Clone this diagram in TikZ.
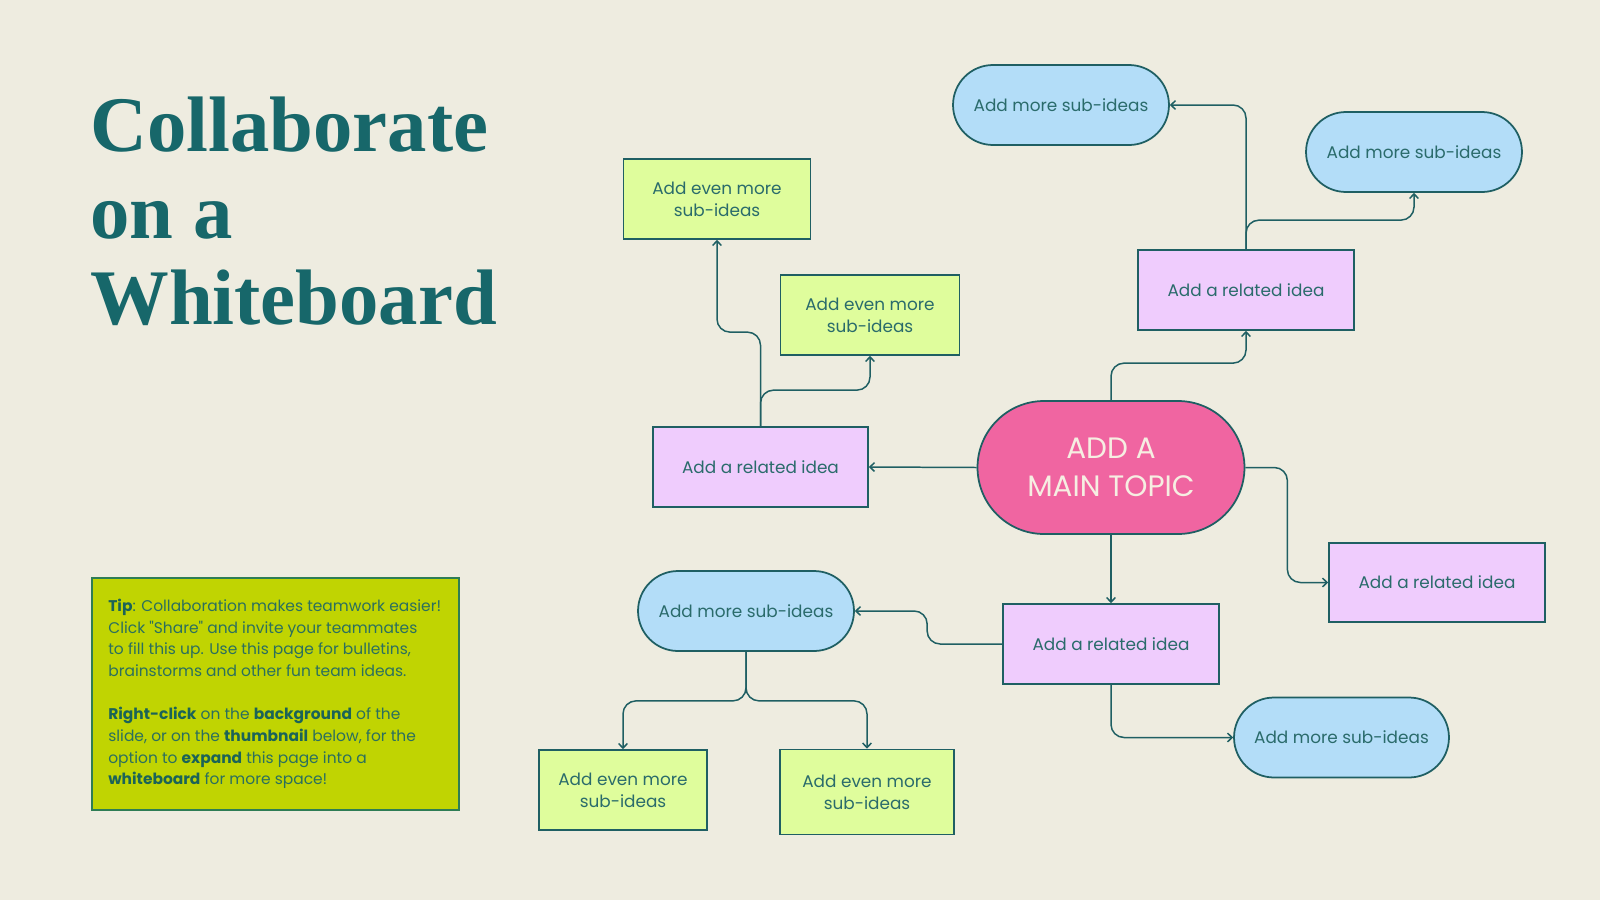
\documentclass[tikz,border=0pt]{standalone}
\usepackage{fontspec}
\setmainfont{Poppins}
\newfontfamily\titlefont{Liberation Serif}
\usetikzlibrary{shapes.misc,arrows.meta}
\definecolor{bgcol}{HTML}{EEECE0}
\definecolor{teal}{HTML}{17676A}
\definecolor{linecol}{HTML}{1F5F63}
\definecolor{txtcol}{HTML}{2A6B6B}
\definecolor{lav}{HTML}{EFCCFD}
\definecolor{sky}{HTML}{B3DDF8}
\definecolor{lime}{HTML}{DFFD9C}
\definecolor{pinkc}{HTML}{F065A1}
\definecolor{cream}{HTML}{F6EEE2}
\definecolor{tipfill}{HTML}{C0D402}
\definecolor{tipline}{HTML}{2E7D55}
\definecolor{tiptxt}{HTML}{2B6F5E}
\definecolor{tipbold}{HTML}{1B6358}
\tikzset{
  base/.style={draw=linecol, line width=1pt, text=txtcol, inner sep=0pt, align=center,
    font=\fontsize{9.6}{12.7}\selectfont},
  related/.style={base, rectangle, fill=lav, minimum height=1.6cm},
  subidea/.style={base, rounded rectangle, fill=sky, minimum height=1.6cm},
  evenmore/.style={base, rectangle, fill=lime, minimum height=1.6cm},
  conn/.style={draw=linecol, line width=0.85pt, rounded corners=0.26cm,
    -{Straight Barb[length=2.6pt,width=5pt]}},
}
\newcommand\tb[1]{{\bfseries\color{tipbold}#1}}
\begin{document}
\begin{tikzpicture}[x=0.02cm,y=-0.02cm]
\fill[bgcol] (0,0) rectangle (1600,900);
\useasboundingbox (0,0) rectangle (1600,900);

% title
\node[anchor=base west, inner sep=0pt, text=teal,
  font=\titlefont\bfseries\fontsize{44.8}{49}\selectfont] (title) at (90,151) {Collaborate};
\node[anchor=base west, inner sep=0pt, text=teal,
  font=\titlefont\bfseries\fontsize{44.8}{49}\selectfont] (title2) at (90,238) {on a};
\node[anchor=base west, inner sep=0pt, text=teal,
  font=\titlefont\bfseries\fontsize{44.8}{49}\selectfont] (title3) at (90,324) {Whiteboard};

% tip box
\node[draw=tipline, line width=1.1pt, fill=tipfill, minimum width=7.34cm,
  minimum height=4.64cm, anchor=north west] (tip) at (91,577) {};
\node[anchor=north west, inner sep=0pt, align=left, text=tiptxt,
  font=\fontsize{8.8}{12.3}\selectfont] (tiptext) at (108,599)
  {\tb{Tip}: Collaboration makes teamwork easier!\\
   Click \textquotedbl Share\textquotedbl{} and invite your teammates\\
   to fill this up. Use this page for bulletins,\\
   brainstorms and other fun team ideas.\\[12.3pt]
   \tb{Right-click} on the \tb{background} of the\\
   slide, or on the \tb{thumbnail} below, for the\\
   option to \tb{expand} this page into a\\
   \tb{whiteboard} for more space!};

% main topic
\node[base, rounded rectangle, fill=pinkc, text=cream, minimum width=5.34cm,
  minimum height=2.66cm, font=\fontsize{16.8}{21.6}\selectfont] (main) at (1111,467.5)
  {ADD A\\MAIN TOPIC};

% related ideas
\node[related, minimum width=4.3cm] (R1) at (760.5,467) {Add a related idea};
\node[related, minimum width=4.32cm] (R2) at (1246,290) {Add a related idea};
\node[related, minimum width=4.32cm, minimum height=1.58cm] (R3) at (1437,582.5) {Add a related idea};
\node[related, minimum width=4.32cm] (R4) at (1111,644) {Add a related idea};

% sub ideas
\node[subidea, minimum width=4.32cm] (B1) at (1061,105) {Add more sub-ideas};
\node[subidea, minimum width=4.32cm] (B2) at (1414,152) {Add more sub-ideas};
\node[subidea, minimum width=4.32cm] (B3) at (746,611) {Add more sub-ideas};
\node[subidea, minimum width=4.3cm] (B4) at (1341.5,737.5) {Add more sub-ideas};

% even more
\node[evenmore, minimum width=3.74cm] (G1) at (717,199) {Add even more\\sub-ideas};
\node[evenmore, minimum width=3.58cm] (G2) at (870,315) {Add even more\\sub-ideas};
\node[evenmore, minimum width=3.36cm] (G3) at (623,790) {Add even more\\sub-ideas};
\node[evenmore, minimum width=3.48cm, minimum height=1.7cm] (G4) at (867,792) {Add even more\\sub-ideas};

% connectors
\draw[conn] (main.west) -- (R1.east);
\draw[conn] (main.north) -- ++(0,-37) -| (R2.south);
\draw[conn] (main.east) -- ++(42,0) |- (R3.west);
\draw[conn] (main.south) -- (R4.north);
\draw[conn] (R4.west) -- ++(-75,0) |- (B3.east);
\draw[conn] (R4.south) |- (B4.west);
\draw[conn] (B3.south) -- ++(0,49) -| (G3.north);
\draw[conn] (B3.south) -- ++(0,49) -| (G4.north);
\draw[conn] (R1.north) -- ++(0,-36) -| (G2.south);
\draw[conn] (R1.north) -- ++(0,-94) -| (G1.south);
\draw[conn] (R2.north) |- (B1.east);
\draw[conn] (R2.north) -- ++(0,-29) -| (B2.south);
\end{tikzpicture}
\end{document}
